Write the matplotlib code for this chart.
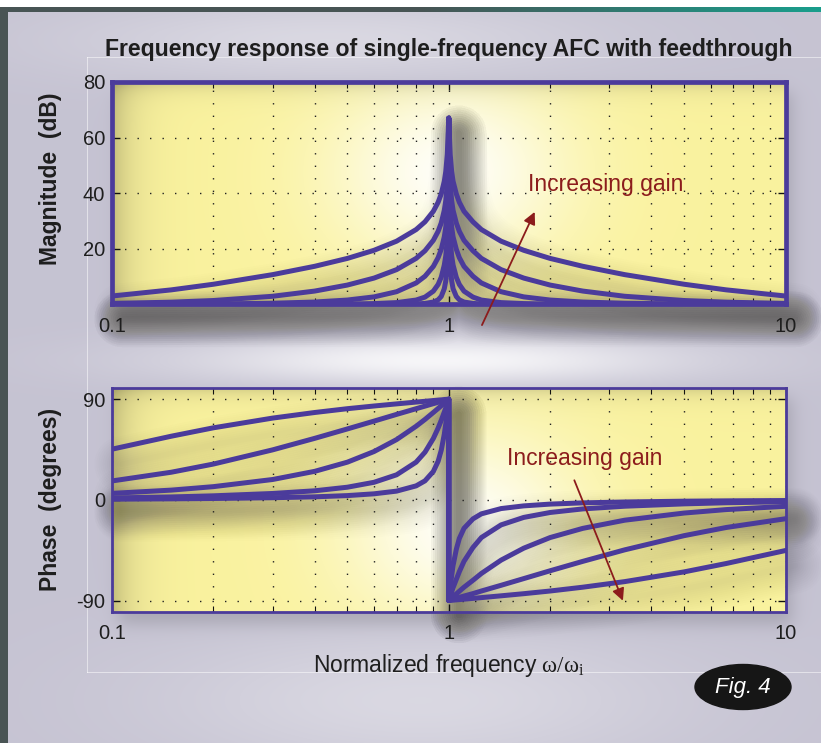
import numpy as np
import matplotlib
matplotlib.use("Agg")
import matplotlib.pyplot as plt
import matplotlib.transforms as mtransforms
from matplotlib.patches import Ellipse
from matplotlib.ticker import LogLocator, NullFormatter

plt.rcParams['font.family'] = ['Liberation Sans', 'DejaVu Sans']
plt.rcParams['mathtext.fontset'] = 'custom'
plt.rcParams['mathtext.rm'] = 'Liberation Serif'
plt.rcParams['axes.unicode_minus'] = False

# ---- data (one curve per loop gain) ----
freq_left = [0.1, 0.15, 0.2, 0.3, 0.4, 0.5, 0.6, 0.7, 0.8, 0.85, 0.9, 0.93, 0.95, 0.97, 0.98, 0.99, 0.995, 1.0]
freq_right = [1.0, 1.005, 1.01, 1.02, 1.03, 1.053, 1.075, 1.11, 1.18, 1.25, 1.43, 1.67, 2.0, 2.5, 3.33, 5.0, 6.67, 10.0]

# magnitude (dB)
mag_g10_left = [3.05, 5.26, 7.28, 10.74, 13.74, 16.57, 19.49, 22.77, 26.94, 29.73, 33.51, 36.76, 39.78, 44.30, 47.87, 53.94, 59.98, 67]
mag_g3_left = [0.38, 0.84, 1.43, 2.96, 4.83, 6.99, 9.50, 12.54, 16.57, 19.32, 23.07, 26.31, 29.32, 33.85, 37.41, 43.48, 49.52, 67]
mag_g1_left = [0.04, 0.10, 0.19, 0.45, 0.89, 1.60, 2.74, 4.60, 7.74, 10.16, 13.70, 16.85, 19.86, 24.32, 27.88, 33.94, 39.98, 67]
mag_g03_left = [0.00, 0.01, 0.02, 0.04, 0.09, 0.17, 0.33, 0.68, 1.60, 2.66, 4.80, 7.21, 9.80, 14.19, 17.57, 23.50, 29.53, 67]
mag_g01_left = [0.00, 0.00, 0.00, 0.01, 0.01, 0.02, 0.04, 0.08, 0.21, 0.39, 0.88, 1.69, 2.90, 5.68, 8.53, 14.27, 20.02, 67]

mag_g10_right = [67, 59.98, 53.94, 47.87, 44.30, 39.78, 36.76, 33.51, 29.73, 26.94, 22.77, 19.49, 16.57, 13.74, 10.74, 7.28, 5.26, 3.05]
mag_g3_right = [67, 49.52, 43.48, 37.41, 33.85, 29.32, 26.31, 23.07, 19.32, 16.57, 12.54, 9.50, 6.99, 4.83, 2.96, 1.43, 0.84, 0.38]
mag_g1_right = [67, 39.98, 33.94, 27.88, 24.32, 19.86, 16.85, 13.70, 10.16, 7.74, 4.60, 2.74, 1.60, 0.89, 0.45, 0.19, 0.10, 0.04]
mag_g03_right = [67, 29.53, 23.50, 17.57, 14.19, 9.80, 7.21, 4.80, 2.66, 1.60, 0.68, 0.33, 0.17, 0.09, 0.04, 0.02, 0.01, 0.00]
mag_g01_right = [67, 20.02, 14.27, 8.53, 5.68, 2.90, 1.69, 0.88, 0.39, 0.21, 0.08, 0.04, 0.02, 0.01, 0.01, 0.00, 0.00, 0.00]

# phase (degrees)
ph_g10_left = [45.3, 56.9, 64.4, 73.1, 78.1, 81.5, 83.9, 85.8, 87.4, 88.1, 88.8, 89.2, 89.4, 89.7, 89.8, 89.9, 89.9, 90]
ph_g3_left = [16.9, 24.7, 32.0, 44.7, 55.0, 63.4, 70.4, 76.4, 81.5, 83.8, 86.0, 87.2, 88.0, 88.8, 89.2, 89.6, 89.8, 90]
ph_g1_left = [5.8, 8.7, 11.8, 18.2, 25.5, 33.7, 43.2, 53.9, 65.8, 71.9, 78.1, 81.7, 84.1, 86.5, 87.7, 88.8, 89.4, 90]
ph_g03_left = [1.7, 2.6, 3.6, 5.7, 8.1, 11.3, 15.7, 22.4, 33.7, 42.6, 54.9, 64.2, 71.1, 78.5, 82.3, 86.2, 88.1, 90]
ph_g01_left = [0.6, 0.9, 1.2, 1.9, 2.7, 3.8, 5.4, 7.8, 12.5, 17.0, 25.4, 34.5, 44.3, 58.7, 68.0, 78.6, 84.3, 90]

ph_g10_right = [-90, -89.9, -89.9, -89.8, -89.7, -89.4, -89.2, -88.8, -88.1, -87.4, -85.8, -83.9, -81.5, -78.1, -73.1, -64.4, -56.9, -45.3]
ph_g3_right = [-90, -89.8, -89.6, -89.2, -88.8, -88.0, -87.2, -86.0, -83.8, -81.5, -76.4, -70.4, -63.4, -55.0, -44.7, -32.0, -24.7, -16.9]
ph_g1_right = [-90, -89.4, -88.8, -87.7, -86.5, -84.1, -81.7, -78.1, -71.9, -65.8, -53.9, -43.2, -33.7, -25.5, -18.2, -11.8, -8.7, -5.8]
ph_g03_right = [-90, -88.1, -86.2, -82.3, -78.5, -71.1, -64.2, -54.9, -42.6, -33.7, -22.4, -15.7, -11.3, -8.1, -5.7, -3.6, -2.6, -1.7]
ph_g01_right = [-90, -84.3, -78.6, -68.0, -58.7, -44.3, -34.5, -25.4, -17.0, -12.5, -7.8, -5.4, -3.8, -2.7, -1.9, -1.2, -0.9, -0.6]

mag_curves = [(mag_g10_left, mag_g10_right), (mag_g3_left, mag_g3_right), (mag_g1_left, mag_g1_right),
              (mag_g03_left, mag_g03_right), (mag_g01_left, mag_g01_right)]
phase_curves = [(ph_g10_left, ph_g10_right), (ph_g3_left, ph_g3_right), (ph_g1_left, ph_g1_right),
                (ph_g03_left, ph_g03_right), (ph_g01_left, ph_g01_right)]

x_ticks = [0.1, 1, 10]
x_tick_labels = ['0.1', '1', '10']
mag_ticks = [20, 40, 60, 80]
phase_ticks = [-90, 0, 90]

curve_color = '#4b3b9b'
text_color = '#1e1e1e'
note_color = '#8c1c1c'

W, H = 821, 743
fig = plt.figure(figsize=(W / 100, H / 100), dpi=100)
ax_bg = fig.add_axes([0, 0, 1, 1], zorder=-10)
ax_mag = fig.add_axes([112 / W, 1 - 304.5 / H, 673.5 / W, 222.5 / H])
ax_ph = fig.add_axes([112 / W, 1 - 611.7 / H, 673.5 / W, 223.7 / H])

# ---- background picture: lavender page, yellow panels, soft shadows ----
yy, xx = np.mgrid[0:H, 0:W].astype(float)
img = np.empty((H, W, 3))
img[:] = [0.775, 0.765, 0.825]


def lift(mask, amount):
    img[:] = img + (1 - img) * (amount * mask)[..., None]


lift(np.exp(-((xx - 440) / 240) ** 2 - ((yy - 360) / 24) ** 2), 0.85)
lift(np.exp(-((xx - 420) / 260) ** 2 - ((yy - 700) / 70) ** 2), 0.35)
lift(np.exp(-((xx - 330) / 260) ** 2 - ((yy - 40) / 40) ** 2), 0.35)


def soft(d, s):
    return 0.5 * (1 + np.tanh(d / s))


panels = []
for ax, gu, gv in [(ax_mag, 0.5, 0.4), (ax_ph, 0.52, 0.62)]:
    bb = ax.get_position()
    x0, x1 = bb.x0 * W, bb.x1 * W
    y0, y1 = (1 - bb.y1) * H, (1 - bb.y0) * H
    panels.append((x0, x1, y0, y1, gu, gv))
    m = soft(xx - (x0 + 6), 10) * soft((x1 + 6) - xx, 10) * soft(yy - (y0 + 10), 10) * soft((y1 + 12) - yy, 10)
    img *= (1 - 0.15 * m)[..., None]

for x0, x1, y0, y1, gu, gv in panels:
    u = (xx - x0) / (x1 - x0)
    v = (yy - y0) / (y1 - y0)
    panel = np.empty((H, W, 3))
    panel[:] = [0.98, 0.95, 0.62]
    glow = np.exp(-((u - gu) / 0.18) ** 2 - ((v - gv) / 0.45) ** 2)
    panel = panel + (1 - panel) * (0.92 * glow)[..., None]
    edge = 0.22 * np.exp(-np.clip(u, 0, None) / 0.03) + 0.15 * np.exp(-np.clip(v, 0, None) / 0.04)
    panel *= (1 - np.clip(edge, 0, 0.3))[..., None]
    inside = (xx >= x0) & (xx <= x1) & (yy >= y0) & (yy <= y1)
    img[inside] = panel[inside]

# frame of the page
img[:7] = 1.0
t = np.clip((xx[7:12] - 420) / 400, 0, 1)[..., None]
img[7:12] = (1 - t) * np.array([0.28, 0.33, 0.33]) + t * np.array([0.1, 0.62, 0.55])
img[7:, :8] = [0.29, 0.33, 0.33]
img[57, 87:] = img[57, 87:] * 0.5 + 0.5
img[672, 87:] = img[672, 87:] * 0.5 + 0.5
img[57:673, 87] = img[57:673, 87] * 0.5 + 0.5

ax_bg.imshow(img, extent=(0, W, H, 0), aspect='auto', interpolation='bilinear')
ax_bg.set_xlim(0, W)
ax_bg.set_ylim(H, 0)
ax_bg.axis('off')

# "Fig. 4" badge
ax_bg.add_patch(Ellipse((743, 687), 96, 45, color='#161616'))
ax_bg.text(743, 688, 'Fig. 4', color='white', style='italic', fontsize=16, ha='center', va='center')


def draw_curve(ax, x, y):
    # blurred drop shadow (many faint wide strokes), then the line itself
    shift = mtransforms.ScaledTranslation(0.10, -0.15, fig.dpi_scale_trans)
    for lw in range(40, 3, -3):
        ax.plot(x, y, color='#1e1c10', lw=lw, alpha=0.009, transform=ax.transData + shift,
                clip_on=False, solid_capstyle='round', solid_joinstyle='round', zorder=1)
    ax.plot(x, y, color=curve_color, lw=3.6, solid_capstyle='round', solid_joinstyle='round', zorder=3)


freqs = freq_left + freq_right
for left, right in mag_curves:
    draw_curve(ax_mag, freqs, left + right)
for left, right in phase_curves:
    draw_curve(ax_ph, freqs, left + right)

for ax, spine_w in [(ax_mag, 3.4), (ax_ph, 2.0)]:
    ax.set_xscale('log')
    ax.set_xlim(0.1, 10)
    ax.patch.set_visible(False)
    ax.set_xticks(x_ticks)
    ax.set_xticklabels(x_tick_labels)
    ax.xaxis.set_minor_locator(LogLocator(base=10, subs=np.arange(2, 10)))
    ax.xaxis.set_minor_formatter(NullFormatter())
    ax.tick_params(which='both', direction='in', top=True, right=True, color='#111111',
                   labelsize=14.5, labelcolor=text_color)
    ax.tick_params(which='major', length=6, width=1)
    ax.tick_params(which='minor', length=4, width=0.8)
    ax.tick_params(axis='x', pad=9)
    ax.tick_params(axis='y', pad=5)
    ax.set_axisbelow('line')
    ax.grid(True, which='major', color='#222222', linestyle=(0, (1, 8)), linewidth=1.0)
    ax.xaxis.grid(True, which='minor', color='#222222', linestyle=(0, (1, 8)), linewidth=1.0)
    for s in ax.spines.values():
        s.set_color(curve_color)
        s.set_linewidth(spine_w)

ax_mag.set_ylim(0, 80)
ax_mag.set_yticks(mag_ticks)
ax_ph.set_ylim(-100, 100)
ax_ph.set_yticks(phase_ticks)

ax_mag.set_title('Frequency response of single-frequency AFC with feedthrough',
                 fontsize=16.6, fontweight='bold', pad=19, color=text_color)
ax_mag.set_ylabel('Magnitude  (dB)', fontsize=16.5, fontweight='bold', color=text_color)
ax_mag.yaxis.set_label_coords(-0.074, 0.565)
ax_ph.set_ylabel('Phase  (degrees)', fontsize=16.5, fontweight='bold', color=text_color)
ax_ph.yaxis.set_label_coords(-0.074, 0.5)
ax_ph.set_xlabel(r'Normalized frequency $\mathrm{\omega/\omega_i}$', fontsize=16.5, labelpad=6, color=text_color)

# "Increasing gain" notes
arrow = dict(arrowstyle='-|>', color=note_color, lw=1.3, mutation_scale=18, shrinkA=0, shrinkB=0)
ax_mag.annotate('', xy=(1.80, 33.3), xytext=(1.255, -7.4), arrowprops=arrow, annotation_clip=False)
ax_mag.text(1.72, 43.0, 'Increasing gain', color=note_color, fontsize=16.5, ha='left', va='center')
ax_ph.annotate('', xy=(3.29, -90.2), xytext=(2.36, 17.5), arrowprops=arrow, annotation_clip=False)
ax_ph.text(1.49, 37.3, 'Increasing gain', color=note_color, fontsize=16.5, ha='left', va='center')

fig.savefig('out.png', dpi=100)
